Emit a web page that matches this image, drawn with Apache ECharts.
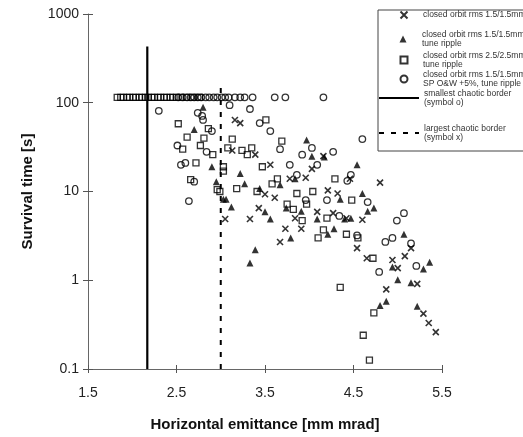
<!DOCTYPE html>
<html lang="en">
<head>
    <meta charset="UTF-8">
    <title>Survival time vs horizontal emittance</title>
    <script src="https://cdn.jsdelivr.net/npm/echarts@6/dist/echarts.min.js"></script>
</head>
<body style="margin: 0">
<div id="container" style="width: 523px; height: 437px"></div>

<script type="text/javascript">
    var dom = document.getElementById("container");
    var myChart = echarts.init(dom);

    // tick labels
    var xTicks = [1.5, 2.5, 3.5, 4.5, 5.5];

    // closed orbit rms 1.5/1.5mm  (symbol x)
    var orbit15 = [
        [3.16, 64], [3.22, 59], [3.13, 29], [3.39, 26], [3.56, 20], [4.03, 18], [3.78, 13.9],
        [3.96, 14.3], [4.16, 25], [4.46, 13.9], [4.80, 12.6], [4.21, 10.3], [4.32, 9.5],
        [3.50, 9.3], [3.61, 8.5], [3.43, 6.5], [4.09, 5.9], [4.27, 5.7], [4.42, 5.0],
        [4.60, 4.8], [3.84, 5.0], [3.05, 4.9], [3.33, 4.9], [3.73, 3.8], [3.91, 3.8],
        [3.67, 2.7], [4.54, 2.3], [4.65, 1.77], [5.08, 1.87], [4.94, 1.69], [5.00, 1.37],
        [5.15, 2.3], [5.22, 0.91], [4.87, 0.79], [5.29, 0.42], [5.35, 0.33], [5.43, 0.26]
    ];

    // closed orbit rms 1.5/1.5mm, tune ripple  (triangle)
    var orbit15Ripple = [
        [2.80, 89], [2.70, 50], [2.90, 19], [2.95, 12.9], [3.97, 38], [4.03, 25], [4.17, 24.5],
        [4.54, 20], [3.22, 16], [3.27, 12.2], [3.67, 11.9], [3.44, 10.8], [3.84, 13.9],
        [4.60, 9.5], [4.35, 8.2], [4.73, 6.5], [4.66, 6.0], [3.03, 8.2], [3.06, 8.2],
        [3.12, 6.7], [3.50, 5.9], [3.74, 6.5], [3.91, 6.0], [4.09, 4.9], [4.40, 4.9],
        [4.47, 5.0], [3.56, 4.9], [4.21, 3.3], [4.28, 3.8], [3.79, 3.0], [3.39, 2.2],
        [3.33, 1.56], [5.07, 3.3], [4.94, 1.41], [5.29, 1.34], [5.36, 1.60], [5.00, 1.01],
        [5.15, 0.94], [4.80, 0.52], [4.87, 0.58], [5.22, 0.51]
    ];

    // closed orbit rms 2.5/2.5mm, tune ripple  (square)
    var orbit25Ripple = [
        [1.83, 115], [1.87, 115], [1.90, 115], [1.94, 115], [1.97, 115], [2.01, 115],
        [2.04, 115], [2.08, 115], [2.11, 115], [2.15, 115], [2.18, 115], [2.22, 115],
        [2.25, 115], [2.29, 115], [2.32, 115], [2.36, 115], [2.39, 115], [2.43, 115],
        [2.46, 115], [2.50, 115], [2.55, 115], [2.61, 115], [2.68, 115], [2.76, 115],
        [2.52, 58], [2.86, 51], [2.62, 41], [2.81, 40], [2.57, 30], [2.77, 33], [2.91, 26],
        [2.72, 21], [2.66, 13.6], [2.96, 10.5], [3.51, 64], [3.13, 39], [3.69, 37],
        [3.08, 31], [3.24, 29], [3.30, 26], [3.35, 31], [3.03, 19], [3.03, 17], [3.47, 19],
        [3.64, 13.9], [4.29, 13.9], [3.18, 10.8], [3.58, 12.2], [3.86, 9.5], [4.04, 10],
        [2.99, 10], [3.41, 10], [3.97, 7.2], [3.75, 7.2], [3.82, 6.3], [3.92, 4.7],
        [4.20, 5.0], [4.48, 8.0], [4.10, 3.0], [4.16, 3.7], [4.42, 3.3], [4.55, 3.0],
        [4.72, 1.77], [4.35, 0.83], [4.73, 0.43], [4.61, 0.24], [4.68, 0.126]
    ];

    // closed orbit rms 1.5/1.5mm, SP O&W +5%, tune ripple  (circle)
    var orbit15Sp = [
        [2.52, 115], [2.57, 115], [2.62, 115], [2.66, 115], [2.70, 115], [2.74, 115],
        [2.78, 115], [2.83, 115], [2.87, 115], [2.92, 115], [2.96, 115], [3.01, 115],
        [3.05, 115], [3.09, 115], [3.16, 115], [3.22, 115], [3.27, 115], [3.36, 115],
        [3.61, 115], [3.73, 115], [4.16, 115],
        [2.30, 81], [2.74, 77], [2.79, 71], [2.80, 64], [2.90, 48], [2.51, 33], [2.84, 28],
        [2.55, 20], [2.60, 21], [2.70, 12.9], [2.64, 7.8], [3.10, 94], [3.33, 85],
        [3.44, 59], [3.56, 48], [3.67, 30], [4.03, 31], [3.92, 26], [4.27, 28], [3.78, 20],
        [4.09, 20], [3.86, 15.4], [4.60, 39], [4.47, 15.4], [4.43, 13.2], [4.20, 8.0],
        [4.66, 7.6], [3.96, 8.0], [4.34, 5.3], [4.54, 3.2], [4.99, 4.7], [5.07, 5.7],
        [4.86, 2.7], [4.94, 3.0], [5.15, 2.6], [5.21, 1.45], [4.79, 1.24]
    ];

    // chaotic borders
    var smallestBorder = [[2.17, 0.1], [2.17, 430]];
    var largestBorder = [[3.0, 0.1], [3.0, 150]];

    var FONT = 'Liberation Sans';
    var crossSymbol = 'path://M0,0L10,10M10,0L0,10';

    function legendItem(name, text, left, top, w, h, padLeft, twoLines, isLine) {
        var lg = {
            data: [name],
            orient: 'vertical',
            left: left,
            top: top,
            padding: 0,
            itemGap: 0,
            itemWidth: w,
            itemHeight: h,
            selectedMode: false,
            formatter: function() { return text; },
            textStyle: {
                fontFamily: FONT,
                fontSize: 8.5,
                lineHeight: 9,
                color: '#333',
                padding: [twoLines ? 9 : 0, 0, 0, padLeft]
            }
        };
        if (isLine) {
            // hide the dot drawn in the middle of a line legend icon
            lg.itemStyle = { color: 'rgba(0,0,0,0)', borderColor: 'rgba(0,0,0,0)', borderWidth: 0 };
        }
        return lg;
    }

    var option = {
        animation: false,
        grid: {
            left: 88,
            right: 81,
            top: 14,
            bottom: 61
        },
        graphic: [{
            type: 'rect',
            left: 377.5,
            top: 9.5,
            z: 3,
            shape: { width: 170, height: 141 },
            style: { fill: '#fff', stroke: '#444', lineWidth: 1 }
        }],
        legend: [
            legendItem('orbit15', 'closed orbit rms 1.5/1.5mm', 399.5, 10.5, 7, 7, 10.5, false, false),
            legendItem('orbit15Ripple', 'closed orbit rms 1.5/1.5mm\ntune ripple', 399.5, 25.5, 7, 7, 10.5, true, false),
            legendItem('orbit25Ripple', 'closed orbit rms 2.5/2.5mm\ntune ripple', 399.5, 46.5, 7, 7, 10.5, true, false),
            legendItem('orbit15Sp', 'closed orbit rms 1.5/1.5mm\nSP O&W +5%, tune ripple', 399.5, 65.5, 7, 7, 10.5, true, false),
            legendItem('smallest', 'smallest chaotic border\n(symbol o)', 378, 84.5, 40, 8, 0, true, true),
            legendItem('largest', 'largest chaotic border\n(symbol x)', 378, 119.5, 40, 8, 0, true, true)
        ],
        xAxis: [{
            type: 'value',
            min: 1.5,
            max: 5.5,
            interval: 0.5,
            name: 'Horizontal emittance [mm mrad]',
            nameLocation: 'middle',
            nameGap: 48,
            nameTextStyle: { fontFamily: FONT, fontSize: 15, fontWeight: 'bold', color: '#111' },
            axisLine: { lineStyle: { color: '#666', width: 1 } },
            axisTick: { length: 4, customValues: xTicks, lineStyle: { color: '#555' } },
            axisLabel: { customValues: xTicks, fontFamily: FONT, fontSize: 14, color: '#222', margin: 17 },
            splitLine: { show: false }
        }, {
            type: 'value',
            min: 1.5,
            max: 5.5,
            position: 'bottom',
            axisLine: { show: false },
            axisTick: { inside: true, length: 4, customValues: xTicks, lineStyle: { color: '#555' } },
            axisLabel: { show: false },
            splitLine: { show: false }
        }],
        yAxis: [{
            type: 'log',
            logBase: 10,
            min: 0.1,
            max: 1000,
            name: 'Survival time [s]',
            nameLocation: 'middle',
            nameGap: 53,
            nameTextStyle: { fontFamily: FONT, fontSize: 15, fontWeight: 'bold', color: '#111' },
            axisLine: { show: true, lineStyle: { color: '#666', width: 1 } },
            axisTick: { show: true, length: 5, lineStyle: { color: '#555' } },
            axisLabel: {
                fontFamily: FONT, fontSize: 14, color: '#222', margin: 9,
                formatter: function(v) { return String(v); }
            },
            minorTick: { show: false },
            splitLine: { show: false }
        }, {
            type: 'log',
            logBase: 10,
            min: 0.1,
            max: 1000,
            position: 'left',
            axisLine: { show: false },
            axisTick: { show: true, inside: true, length: 5, lineStyle: { color: '#555' } },
            axisLabel: { show: false },
            splitLine: { show: false }
        }],
        series: [{
            name: 'orbit15',
            type: 'scatter',
            symbol: crossSymbol,
            symbolSize: 6,
            itemStyle: { color: '#000', borderColor: '#000', borderWidth: 1.6 },
            data: orbit15
        }, {
            name: 'orbit15Ripple',
            type: 'scatter',
            symbol: 'triangle',
            symbolSize: 7,
            itemStyle: { color: '#000' },
            data: orbit15Ripple
        }, {
            name: 'orbit25Ripple',
            type: 'scatter',
            symbol: 'rect',
            symbolSize: 6,
            itemStyle: { color: 'rgba(255,255,255,0)', borderColor: '#000', borderWidth: 1.3 },
            data: orbit25Ripple
        }, {
            name: 'orbit15Sp',
            type: 'scatter',
            symbol: 'circle',
            symbolSize: 6.5,
            itemStyle: { color: 'rgba(255,255,255,0)', borderColor: '#000', borderWidth: 1.3 },
            data: orbit15Sp
        }, {
            name: 'smallest',
            type: 'line',
            symbol: 'none',
            lineStyle: { color: '#000', width: 2.2 },
            itemStyle: { color: '#000' },
            data: smallestBorder
        }, {
            name: 'largest',
            type: 'line',
            symbol: 'none',
            lineStyle: { color: '#000', width: 2, type: [5, 7] },
            itemStyle: { color: '#000' },
            data: largestBorder
        }]
    };

    myChart.setOption(option);
</script>
</body>
</html>
